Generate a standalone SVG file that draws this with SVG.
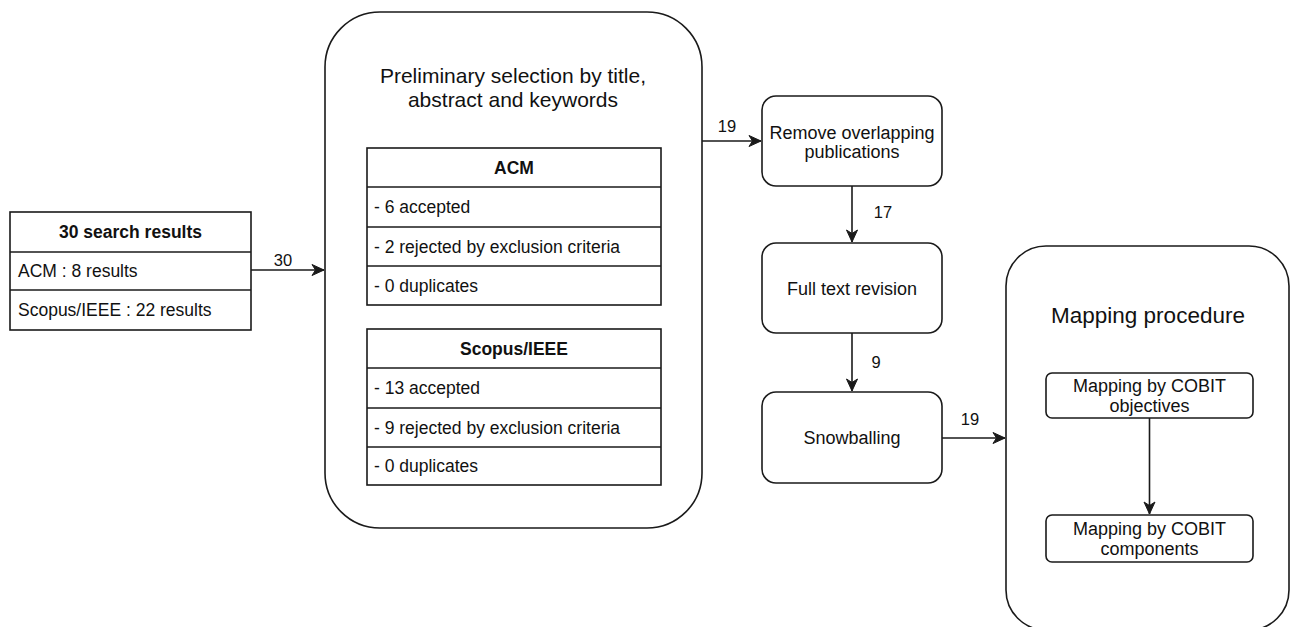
<svg xmlns="http://www.w3.org/2000/svg" width="1290" height="627" viewBox="0 0 1290 627">
  <style>
    .box { fill: #ffffff; stroke: #1a1a1a; stroke-width: 1.6; }
    .edge { fill: none; stroke: #1a1a1a; stroke-width: 1.6; }
    text { font-family: "Liberation Sans", Arial, sans-serif; fill: #111111; }
    .cell { font-size: 17.5px; }
    .head { font-size: 17.5px; font-weight: bold; text-anchor: middle; }
    .label { font-size: 18px; text-anchor: middle; }
    .num { font-size: 16.5px; text-anchor: middle; }
    .title { font-size: 21px; text-anchor: middle; }
  </style>
  <defs>
    <marker id="arrow" markerUnits="userSpaceOnUse" markerWidth="14" markerHeight="14" viewBox="0 0 14 14" refX="13" refY="7" orient="auto">
      <path d="M1,1.5 L13,7 L1,12.5 L4.5,7 Z" fill="#1a1a1a" stroke="#1a1a1a" stroke-width="1"/>
    </marker>
  </defs>
  <rect width="1290" height="627" fill="#ffffff"/>

  <!-- search results table -->
  <g id="search-results">
    <rect class="box" x="10" y="212" width="241" height="118"/>
    <line class="edge" x1="10" y1="252" x2="251" y2="252"/>
    <line class="edge" x1="10" y1="290" x2="251" y2="290"/>
    <text class="head" x="130.5" y="238">30 search results</text>
    <text class="cell" x="18" y="277">ACM : 8 results</text>
    <text class="cell" x="18" y="316">Scopus/IEEE : 22 results</text>
  </g>

  <!-- preliminary selection container -->
  <g id="preliminary-selection">
    <rect class="box" x="325" y="12" width="377" height="516" rx="55" ry="55"/>
    <text class="title" x="513" y="83">Preliminary selection by title,</text>
    <text class="title" x="513" y="107">abstract and keywords</text>
  </g>

  <g id="acm-table">
    <rect class="box" x="367" y="148" width="294" height="157"/>
    <line class="edge" x1="367" y1="187" x2="661" y2="187"/>
    <line class="edge" x1="367" y1="227" x2="661" y2="227"/>
    <line class="edge" x1="367" y1="266" x2="661" y2="266"/>
    <text class="head" x="514" y="174">ACM</text>
    <text class="cell" x="374" y="213">- 6 accepted</text>
    <text class="cell" x="374" y="253">- 2 rejected by exclusion criteria</text>
    <text class="cell" x="374" y="292">- 0 duplicates</text>
  </g>

  <g id="scopus-table">
    <rect class="box" x="367" y="329" width="294" height="156"/>
    <line class="edge" x1="367" y1="368" x2="661" y2="368"/>
    <line class="edge" x1="367" y1="408" x2="661" y2="408"/>
    <line class="edge" x1="367" y1="447" x2="661" y2="447"/>
    <text class="head" x="514" y="355">Scopus/IEEE</text>
    <text class="cell" x="374" y="394">- 13 accepted</text>
    <text class="cell" x="374" y="434">- 9 rejected by exclusion criteria</text>
    <text class="cell" x="374" y="472">- 0 duplicates</text>
  </g>

  <g id="remove-overlapping">
    <rect class="box" x="762" y="96" width="180" height="90" rx="14" ry="14"/>
    <text class="label" x="852" y="139">Remove overlapping</text>
    <text class="label" x="852" y="158">publications</text>
  </g>

  <g id="full-text-revision">
    <rect class="box" x="762" y="243" width="180" height="90" rx="14" ry="14"/>
    <text class="label" x="852" y="295">Full text revision</text>
  </g>

  <g id="snowballing">
    <rect class="box" x="762" y="392" width="180" height="91" rx="14" ry="14"/>
    <text class="label" x="852" y="444">Snowballing</text>
  </g>

  <!-- mapping procedure container -->
  <g id="mapping-procedure">
    <rect class="box" x="1006" y="246" width="283" height="384" rx="40" ry="40"/>
    <text x="1148" y="323" font-size="22.5" text-anchor="middle">Mapping procedure</text>
  </g>

  <g id="mapping-objectives">
    <rect class="box" x="1046" y="373" width="207" height="45" rx="6" ry="6"/>
    <text class="label" x="1149.5" y="392" font-size="17.5">Mapping by COBIT</text>
    <text class="label" x="1149.5" y="412" font-size="17.5">objectives</text>
  </g>

  <g id="mapping-components">
    <rect class="box" x="1046" y="515" width="207" height="47" rx="6" ry="6"/>
    <text class="label" x="1149.5" y="535" font-size="17.5">Mapping by COBIT</text>
    <text class="label" x="1149.5" y="555" font-size="17.5">components</text>
  </g>

  <!-- connectors -->
  <g id="connectors">
    <line class="edge" x1="251" y1="270" x2="324" y2="270" marker-end="url(#arrow)"/>
    <text class="num" x="283" y="266" font-size="17">30</text>
    <line class="edge" x1="702" y1="141" x2="761" y2="141" marker-end="url(#arrow)"/>
    <text class="num" x="727" y="132">19</text>
    <line class="edge" x1="852" y1="186" x2="852" y2="242" marker-end="url(#arrow)"/>
    <text class="num" x="883" y="218">17</text>
    <line class="edge" x1="852" y1="333" x2="852" y2="391" marker-end="url(#arrow)"/>
    <text class="num" x="876" y="368">9</text>
    <line class="edge" x1="942" y1="438" x2="1005" y2="438" marker-end="url(#arrow)"/>
    <text class="num" x="970" y="425">19</text>
    <line class="edge" x1="1149.5" y1="418" x2="1149.5" y2="514" marker-end="url(#arrow)"/>
  </g>
</svg>
